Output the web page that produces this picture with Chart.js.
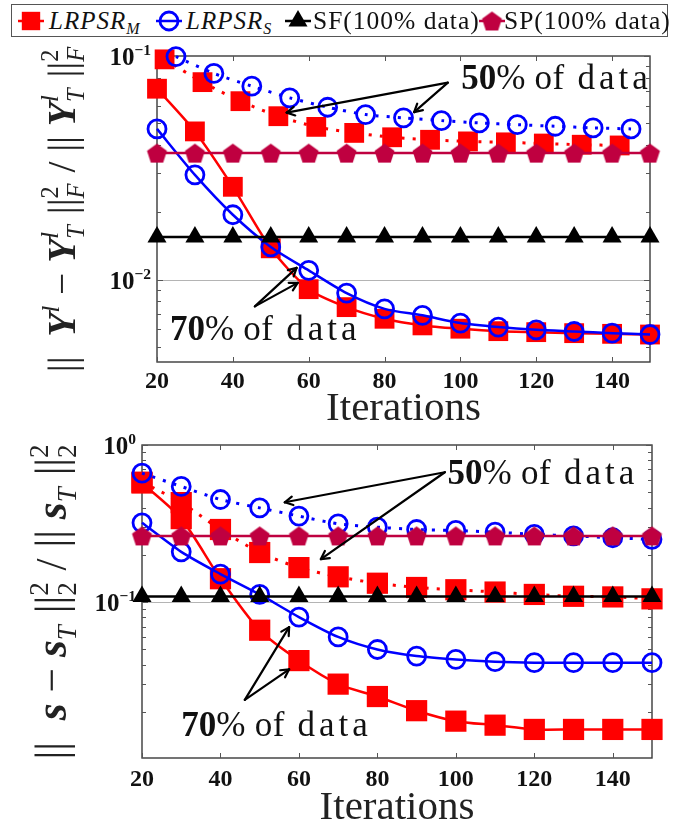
<!DOCTYPE html>
<html>
<head>
<meta charset="utf-8">
<script src="https://cdn.jsdelivr.net/npm/chart.js@4.4.1/dist/chart.umd.min.js"></script>
<style>
  html, body { margin: 0; padding: 0; background: #fff; }
  #wrap { position: relative; width: 699px; height: 827px; overflow: hidden; }
  #legend { position: absolute; left: 11px; top: 4px; width: 655px; height: 31px;
            border: 1.3px solid #555; font-family: "Liberation Serif", serif; font-size: 25.5px; color: #111; }
  #legend .it { position: absolute; top: 0; height: 31px; line-height: 31px; white-space: nowrap; letter-spacing: 1px; }
  #legend i { font-size: 25px; }
  #legend canvas { position: absolute; top: 0; }
  #legend sub { font-size: 16px; vertical-align: -5px; line-height: 0; letter-spacing: 0; }
  #topChart { position: absolute; left: 0; top: 40px; }
  #botChart { position: absolute; left: 0; top: 430px; }
</style>
</head>
<body>
<div id="wrap">
  <div id="legend">
    <canvas id="mk0" width="32" height="31" style="left:3px"></canvas>
    <span class="it" style="left:37px"><i>LRPSR<sub>M</sub></i></span>
    <canvas id="mk1" width="32" height="31" style="left:141px"></canvas>
    <span class="it" style="left:174px"><i>LRPSR<sub>S</sub></i></span>
    <canvas id="mk2" width="32" height="31" style="left:270px"></canvas>
    <span class="it" style="left:301px">SF(100% data)</span>
    <canvas id="mk3" width="32" height="31" style="left:464px"></canvas>
    <span class="it" style="left:492px">SP(100% data)</span>
  </div>
  <canvas id="topChart" width="699" height="390"></canvas>
  <canvas id="botChart" width="699" height="397"></canvas>
</div>
<script>
// ---- data ----
const iterations = [20, 30, 40, 50, 60, 70, 80, 90, 100, 110, 120, 130, 140, 150];
// the 50% curves of the upper panel are drawn slightly shifted
const itersTopM50 = [22, 32, 42, 52, 62, 72, 82, 92, 102, 112, 122, 132, 142];
const itersTopS50 = [25, 35, 45, 55, 65, 75, 85, 95, 105, 115, 125, 135, 145];

// upper panel: || Y - Y_T ||^2 / || Y_T ||^2
const topM70 = [0.0714, 0.046, 0.026, 0.0138, 0.00906, 0.00753, 0.00668, 0.00624, 0.00603, 0.00588, 0.00582, 0.00576, 0.00572, 0.00568];
const topS70 = [0.0472, 0.0294, 0.0195, 0.0140, 0.0110, 0.0087, 0.0074, 0.00692, 0.00639, 0.00613, 0.00596, 0.00586, 0.00576, 0.00568];
const topM50 = [0.0966, 0.0764, 0.0628, 0.0538, 0.0482, 0.0453, 0.0433, 0.0422, 0.0415, 0.0411, 0.0406, 0.0401, 0.0398];
const topS50 = [0.0994, 0.0836, 0.0733, 0.0650, 0.0590, 0.0547, 0.0529, 0.0514, 0.0502, 0.0493, 0.0485, 0.0477, 0.0472];
const topSF = [0.0155, 0.0155, 0.0155, 0.0155, 0.0155, 0.0155, 0.0155, 0.0155, 0.0155, 0.0155, 0.0155, 0.0155, 0.0155, 0.0155];
const topSP = [0.0368, 0.0368, 0.0368, 0.0368, 0.0368, 0.0368, 0.0368, 0.0368, 0.0368, 0.0368, 0.0368, 0.0368, 0.0368, 0.0368];

// lower panel: || s - s_T ||^2 / || s_T ||^2
const botM70 = [0.573, 0.34, 0.141, 0.0663, 0.0425, 0.0301, 0.0251, 0.0204, 0.0175, 0.0165, 0.0155, 0.0155, 0.0155, 0.0155];
const botS70 = [0.320, 0.209, 0.151, 0.112, 0.0804, 0.0601, 0.0500, 0.0454, 0.0432, 0.0418, 0.0412, 0.0412, 0.0412, 0.0412];
const botM50 = [0.58, 0.43, 0.290, 0.207, 0.166, 0.145, 0.132, 0.124, 0.120, 0.116, 0.112, 0.109, 0.108, 0.105];
const botS50 = [0.662, 0.545, 0.450, 0.398, 0.353, 0.315, 0.300, 0.290, 0.286, 0.279, 0.270, 0.264, 0.257, 0.251];
const botSF = [0.1087, 0.1087, 0.1087, 0.1087, 0.1087, 0.1087, 0.1087, 0.1087, 0.1087, 0.1087, 0.1087, 0.1087, 0.1087, 0.1087];
const botSP = [0.264, 0.264, 0.264, 0.264, 0.264, 0.264, 0.264, 0.264, 0.264, 0.264, 0.264, 0.264, 0.264, 0.264];

// y tick labels (decades) of each panel
const topDecades = [0.01, 0.1];
const topDecadeExp = ['\u22122', '\u22121'];
const botDecades = [0.1, 1];
const botDecadeExp = ['\u22121', '0'];

const RED = '#ff0000', BLUE = '#0000ff', PURPLE = '#bf0040', BLACK = '#000000';
const SERIF = '"Liberation Serif", "DejaVu Serif", serif';

function makePentagon(r, color) {
  const s = Math.ceil(r * 2 + 2);
  const c = document.createElement('canvas');
  c.width = s; c.height = s;
  const g = c.getContext('2d');
  g.fillStyle = color;
  g.beginPath();
  for (let i = 0; i < 5; i++) {
    const a = -Math.PI / 2 + i * 2 * Math.PI / 5;
    const px = s / 2 + r * Math.cos(a), py = s / 2 + 1 + r * Math.sin(a);
    if (i) g.lineTo(px, py); else g.moveTo(px, py);
  }
  g.closePath();
  g.fill();
  return c;
}
const pentagon = makePentagon(10.5, PURPLE);

function pts(xs, ys) {
  return xs.map((x, i) => ({ x: x, y: ys[i] }));
}

// ---- text helpers (super/subscripts, letter spacing) ----
function fnt(style, size) { return style + ' ' + size + 'px ' + SERIF; }
function runWidth(ctx, r, size) {
  const [t, st, kind, ls] = r;
  const s = size * 0.62;
  ctx.letterSpacing = (ls || 0) + 'px';
  let w;
  if (!kind) { ctx.font = fnt(st, size); w = ctx.measureText(t).width; }
  else if (kind === 'both') {
    ctx.font = fnt(st[0], s); const a = ctx.measureText(t[0]).width;
    ctx.font = fnt(st[1], s); const b = ctx.measureText(t[1]).width;
    w = Math.max(a, b) + 1;
  } else {
    ctx.font = fnt(st, s);
    w = ctx.measureText(t).width + 1;
  }
  ctx.letterSpacing = '0px';
  return w;
}
function runsWidth(ctx, runs, size) {
  return runs.reduce((w, r) => w + runWidth(ctx, r, size), 0);
}
function drawRuns(ctx, runs, x, y, size) {
  const s = size * 0.62;
  for (const r of runs) {
    const [t, st, kind, ls] = r;
    const w = runWidth(ctx, r, size);
    ctx.letterSpacing = (ls || 0) + 'px';
    if (!kind) { ctx.font = fnt(st, size); ctx.fillText(t, x, y); }
    else if (kind === 'sup') { ctx.font = fnt(st, s); ctx.fillText(t, x, y - size * 0.40); }
    else if (kind === 'sub') { ctx.font = fnt(st, s); ctx.fillText(t, x, y + size * 0.22); }
    else {
      ctx.font = fnt(st[0], s); ctx.fillText(t[0], x, y - size * 0.42);
      ctx.font = fnt(st[1], s); ctx.fillText(t[1], x, y + size * 0.24);
    }
    ctx.letterSpacing = '0px';
    x += w;
  }
}

const topTitle = [
  ['||  ', ''], ['Y', 'bold italic'], ['l', 'italic', 'sup'], [' \u2212 ', ''],
  ['Y', 'bold italic'], [['l', 'T'], ['italic', 'italic'], 'both'], [' ||', ''],
  [['2', 'F'], ['', 'italic'], 'both'], [' / || ', ''], ['Y', 'bold italic'],
  [['l', 'T'], ['italic', 'italic'], 'both'], [' ||', ''], [['2', 'F'], ['', 'italic'], 'both']
];
const botTitle = [
  ['||  ', ''], ['s', 'bold italic'], [' \u2212 ', ''], ['s', 'bold italic'], ['T', 'italic', 'sub'],
  [' ||', ''], [['2', '2'], ['', ''], 'both'], [' / || ', ''], ['s', 'bold italic'],
  ['T', 'italic', 'sub'], [' ||', ''], [['2', '2'], ['', ''], 'both']
];

// annotation anchors, in data units: text baseline start, arrow start, arrow tips
const topNotes = [
  { pct: '50', text: [100.2, 0.0710], from: [96.7, 0.0760], tips: [[54.2, 0.0558], [87.8, 0.0561]] },
  { pct: '70', text: [23.4, 0.00535], from: [45.8, 0.00759], tips: [[56.8, 0.01128], [57.1, 0.00967]] }
];
const botNotes = [
  { pct: '50', text: [97.9, 0.561], from: [97.2, 0.671], tips: [[56.4, 0.432], [65.6, 0.188]] },
  { pct: '70', text: [30.0, 0.01416], from: [46.2, 0.0239], tips: [[57.5, 0.0694], [57.5, 0.0374]] }
];

function line(ctx, x1, y1, x2, y2) {
  ctx.beginPath(); ctx.moveTo(x1, y1); ctx.lineTo(x2, y2); ctx.stroke();
}

const decorPlugin = {
  id: 'decor',
  beforeDatasetsDraw(chart, args, o) {
    const { ctx, chartArea: a, scales: { x, y } } = chart;
    ctx.save();
    // decade grid lines
    ctx.strokeStyle = '#b4b4b4';
    ctx.lineWidth = 1;
    o.decades.forEach(v => {
      const py = Math.round(y.getPixelForValue(v)) + 0.5;
      if (py > a.top + 2 && py < a.bottom - 2) line(ctx, a.left, py, a.right, py);
    });
    // frame
    ctx.strokeStyle = '#3a3a3a';
    ctx.lineWidth = 1.4;
    ctx.strokeRect(a.left, a.top, a.right - a.left, a.bottom - a.top);
    // log ticks, inside, on both sides
    ctx.lineWidth = 1;
    ctx.strokeStyle = '#555';
    const e0 = Math.floor(Math.log10(y.min)), e1 = Math.ceil(Math.log10(y.max));
    for (let e = e0; e <= e1; e++) {
      for (let m = 1; m <= 9; m++) {
        const v = m * Math.pow(10, e);
        if (v < y.min || v > y.max) continue;
        const py = Math.round(y.getPixelForValue(v)) + 0.5;
        const len = m === 1 ? 6 : 4;
        line(ctx, a.left, py, a.left + len, py);
        line(ctx, a.right - len, py, a.right, py);
      }
    }
    // x ticks
    x.ticks.forEach(t => {
      const px = Math.round(x.getPixelForValue(t.value)) + 0.5;
      line(ctx, px, a.bottom, px, a.bottom - 5);
      line(ctx, px, a.top, px, a.top + 5);
    });
    ctx.restore();
  },
  afterDatasetsDraw(chart, args, o) {
    const { ctx, scales: { x, y } } = chart;
    ctx.save();
    ctx.strokeStyle = '#000';
    ctx.fillStyle = '#111';
    ctx.lineWidth = 2.2;
    ctx.lineCap = 'round';
    o.notes.forEach(n => {
      const sx = x.getPixelForValue(n.from[0]), sy = y.getPixelForValue(n.from[1]);
      n.tips.forEach(tp => {
        const tx = x.getPixelForValue(tp[0]), ty = y.getPixelForValue(tp[1]);
        line(ctx, sx, sy, tx, ty);
        const ang = Math.atan2(ty - sy, tx - sx);
        const h = 9;
        line(ctx, tx, ty, tx - h * Math.cos(ang - 0.5), ty - h * Math.sin(ang - 0.5));
        line(ctx, tx, ty, tx - h * Math.cos(ang + 0.5), ty - h * Math.sin(ang + 0.5));
      });
      ctx.textAlign = 'left';
      ctx.textBaseline = 'alphabetic';
      const runs = [[n.pct, 'bold'], ['%', ''], [' of', '', null, 0.5], [' data', '', null, 4]];
      drawRuns(ctx, runs, x.getPixelForValue(n.text[0]), y.getPixelForValue(n.text[1]), 35);
    });
    ctx.restore();
  },
  afterDraw(chart, args, o) {
    const { ctx, chartArea: a, scales: { y } } = chart;
    ctx.save();
    ctx.fillStyle = '#111';
    ctx.textAlign = 'left';
    ctx.textBaseline = 'alphabetic';
    // decade tick labels 10^e
    o.decades.forEach((v, i) => {
      const runs = [['10', 'bold'], [o.exps[i], 'bold', 'sup']];
      const w = runsWidth(ctx, runs, 25);
      drawRuns(ctx, runs, a.left - 5 - w, y.getPixelForValue(v) + 9, 25);
    });
    // rotated y title
    ctx.fillStyle = '#222';
    let size = 30;
    const w = runsWidth(ctx, o.title, size);
    size = size * o.titleLen / w;
    const w2 = runsWidth(ctx, o.title, size);
    ctx.translate(o.titleX, (a.top + a.bottom) / 2);
    ctx.rotate(-Math.PI / 2);
    drawRuns(ctx, o.title, -w2 / 2, 0, size);
    ctx.restore();
  }
};

function makeDatasets(d) {
  const common = { clip: false, pointBorderWidth: 0, fill: false };
  return [
    Object.assign({}, common, {
      label: 'LRPSR_M 70%', data: pts(iterations, d.m70), order: 6,
      borderColor: RED, backgroundColor: RED, borderWidth: 2.5, tension: 0.25,
      pointStyle: 'rect', pointRadius: d.sq, pointBackgroundColor: RED, pointBorderColor: RED
    }),
    Object.assign({}, common, {
      label: 'LRPSR_M 50%', data: pts(d.xm50, d.m50), order: 5,
      borderColor: RED, backgroundColor: RED, borderWidth: 3, borderDash: [3, 8], tension: 0.25,
      pointStyle: 'rect', pointRadius: d.sq, pointBackgroundColor: RED, pointBorderColor: RED
    }),
    Object.assign({}, common, {
      label: 'LRPSR_S 70%', data: pts(iterations, d.s70), order: 4,
      borderColor: BLUE, borderWidth: 2.5, tension: 0.25,
      pointStyle: 'circle', pointRadius: 9, pointBorderWidth: 2.8,
      pointBackgroundColor: 'rgba(0,0,0,0)', pointBorderColor: BLUE
    }),
    Object.assign({}, common, {
      label: 'LRPSR_S 50%', data: pts(d.xs50, d.s50), order: 3,
      borderColor: BLUE, borderWidth: 3, borderDash: [3, 8], tension: 0.25,
      pointStyle: 'circle', pointRadius: 9, pointBorderWidth: 2.8,
      pointBackgroundColor: 'rgba(0,0,0,0)', pointBorderColor: BLUE
    }),
    Object.assign({}, common, {
      label: 'SF(100% data)', data: pts(iterations, d.sf), order: 2,
      borderColor: BLACK, borderWidth: 2.5, tension: 0,
      pointStyle: 'triangle', pointRadius: 11, pointBackgroundColor: BLACK, pointBorderColor: BLACK
    }),
    Object.assign({}, common, {
      label: 'SP(100% data)', data: pts(iterations, d.sp), order: 1,
      borderColor: PURPLE, borderWidth: 2.5, tension: 0,
      pointStyle: pentagon, pointRadius: 11, pointBackgroundColor: PURPLE, pointBorderColor: PURPLE
    })
  ];
}

function makeChart(id, d, cfg) {
  return new Chart(document.getElementById(id), {
    type: 'line',
    data: { datasets: makeDatasets(d) },
    plugins: [decorPlugin],
    options: {
      responsive: false,
      animation: false,
      events: [],
      layout: { padding: { top: cfg.padTop, right: cfg.padRight, left: 0, bottom: 0 } },
      plugins: {
        legend: { display: false },
        tooltip: { enabled: false },
        decor: { decades: cfg.decades, exps: cfg.exps, notes: cfg.notes, title: cfg.title, titleX: cfg.titleX, titleLen: cfg.titleLen }
      },
      scales: {
        x: {
          type: 'linear', min: 20, max: 150,
          grid: { display: false }, border: { display: false },
          ticks: { stepSize: 20, includeBounds: false, autoSkip: false, maxRotation: 0, padding: cfg.tickPad,
                   color: '#111', font: { family: SERIF, size: 24, weight: 'bold', lineHeight: 1 } },
          title: { display: true, text: 'Iterations', color: '#222', padding: { top: 0, bottom: cfg.titlePad },
                   font: { family: SERIF, size: 41, lineHeight: 1 } },
          afterFit: s => { s.height = cfg.xHeight; }
        },
        y: {
          type: 'logarithmic', min: cfg.ymin, max: cfg.ymax,
          grid: { display: false }, border: { display: false },
          ticks: { display: false },
          afterFit: s => { s.width = cfg.yWidth; }
        }
      }
    }
  });
}

makeChart('topChart',
  { m70: topM70, s70: topS70, m50: topM50, s50: topS50, sf: topSF, sp: topSP, xm50: itersTopM50, xs50: itersTopS50, sq: 14 },
  { padTop: 16, padRight: 49, xHeight: 68, yWidth: 157, ymin: 0.00428, ymax: 0.1, titlePad: 0.5, tickPad: 0,
    decades: topDecades, exps: topDecadeExp, notes: topNotes, title: topTitle, titleX: 75, titleLen: 328 });

makeChart('botChart',
  { m70: botM70, s70: botS70, m50: botM50, s50: botS50, sf: botSF, sp: botSP, xm50: iterations, xs50: iterations, sq: 15 },
  { padTop: 13, padRight: 47, xHeight: 69, yWidth: 142, ymin: 0.0102, ymax: 1, titlePad: -1.5, tickPad: 2,
    decades: botDecades, exps: botDecadeExp, notes: botNotes, title: botTitle, titleX: 66, titleLen: 318 });

// ---- legend markers ----
function drawMarker(id, color, opts) {
  const c = document.getElementById(id);
  const g = c.getContext('2d');
  g.strokeStyle = color; g.fillStyle = color; g.lineWidth = 2.5;
  line(g, 3, 16, 29, 16);
  if (opts) Chart.helpers.drawPoint(g, Object.assign({ rotation: 0 }, opts), 16, 16);
}
drawMarker('mk0', RED, { pointStyle: 'rect', radius: 13, borderWidth: 0 });
drawMarker('mk1', BLUE, null);
(function () {
  const g = document.getElementById('mk1').getContext('2d');
  g.strokeStyle = BLUE; g.lineWidth = 2.8;
  g.beginPath(); g.arc(16, 16, 9, 0, Math.PI * 2); g.stroke();
})();
drawMarker('mk2', BLACK, { pointStyle: 'triangle', radius: 11, borderWidth: 0 });
drawMarker('mk3', PURPLE, { pointStyle: pentagon, radius: 11, borderWidth: 0 });
</script>
</body>
</html>
